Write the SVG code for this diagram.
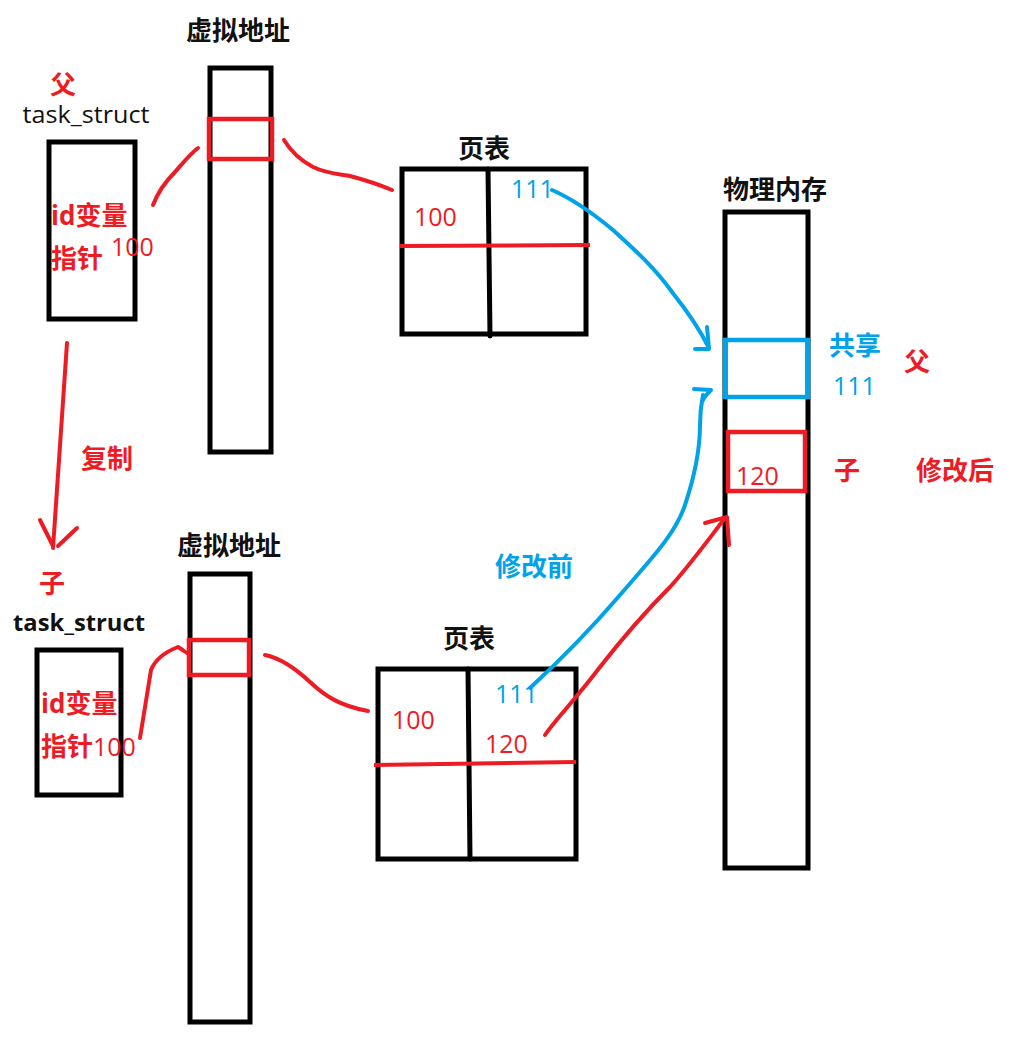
<svg xmlns="http://www.w3.org/2000/svg" width="1011" height="1049" viewBox="0 0 1011 1049">
<style>
.box{fill:none;stroke:#000;stroke-width:5}
.rbox{fill:none;stroke:#ED1C24;stroke-width:4.5}
.bbox{fill:none;stroke:#00A2E8;stroke-width:4.5}
.ln{fill:none;stroke:#000;stroke-width:5;stroke-linecap:round}
.rl{fill:none;stroke:#ED1C24;stroke-width:4;stroke-linecap:round;stroke-linejoin:round}
.bl{fill:none;stroke:#00A2E8;stroke-width:4;stroke-linecap:round;stroke-linejoin:round}
text{font-family:"Open Sans","Noto Sans CJK SC",sans-serif}
.h{font-size:26px;font-weight:bold;fill:#111;text-anchor:middle}
.rb{font-size:26px;font-weight:bold;fill:#ED1C24}
.bb{font-size:26px;font-weight:bold;fill:#00A2E8}
.rn{font-size:25px;fill:#ED1C24}
.bn{font-size:25px;fill:#00A2E8}
.ts{font-size:24px;fill:#111;text-anchor:middle}
</style>
<rect width="1011" height="1049" fill="#fff"/>

<g id="parent-task">
<text class="rb" x="50" y="94" font-size="27">父</text>
<text class="ts" x="86" y="123" textLength="127" lengthAdjust="spacingAndGlyphs">task_struct</text>
<rect class="box" x="49" y="142" width="86" height="177"/>
<text class="rb" x="51" y="225" font-size="24">id变量</text>
<text class="rb" x="51" y="268" font-size="24">指针</text>
<text class="rn" x="111" y="256">100</text>
</g>

<g id="parent-vaddr">
<text class="h" x="238" y="40">虚拟地址</text>
<rect class="box" x="210" y="68" width="61" height="384"/>
<rect class="rbox" x="209" y="119" width="63" height="40"/>
</g>

<g id="parent-pagetable">
<text class="h" x="484" y="158">页表</text>
<rect class="box" x="402" y="169" width="184" height="165"/>
<line class="ln" x1="488" y1="169" x2="490" y2="336"/>
<line x1="400" y1="246" x2="590" y2="245" stroke="#ED1C24" stroke-width="4"/>
<text class="rn" x="414" y="226">100</text>
<text class="bn" x="511" y="198">111</text>
</g>

<g id="physical-memory">
<text class="h" x="775" y="199">物理内存</text>
<rect class="box" x="725" y="212" width="83" height="656"/>
<rect class="bbox" x="725" y="340" width="83" height="57"/>
<rect class="rbox" x="728" y="432" width="77" height="59"/>
<text class="rn" x="736" y="485">120</text>
<text class="bb" x="829" y="355">共享</text>
<text class="bn" x="833" y="395">111</text>
<text class="rb" x="904" y="371" font-size="28">父</text>
<text class="rb" x="834" y="480">子</text>
<text class="rb" x="916" y="480">修改后</text>
</g>

<g id="label-before">
<text class="bb" x="495" y="576">修改前</text>
</g>

<g id="label-copy">
<text class="rb" x="81" y="468">复制</text>
</g>

<g id="child-task">
<text class="rb" x="39" y="593" font-size="28">子</text>
<text class="ts" x="79" y="631" font-weight="bold" textLength="132" lengthAdjust="spacingAndGlyphs">task_struct</text>
<rect class="box" x="37" y="650" width="84" height="145"/>
<text class="rb" x="41" y="713" font-size="24">id变量</text>
<text class="rb" x="41" y="756" font-size="24">指针</text>
<text class="rn" x="93" y="756">100</text>
</g>

<g id="child-vaddr">
<text class="h" x="229" y="555">虚拟地址</text>
<rect class="box" x="190" y="574" width="60" height="448"/>
<rect class="rbox" x="189" y="640" width="60" height="35"/>
</g>

<g id="child-pagetable">
<text class="h" x="469" y="648">页表</text>
<rect class="box" x="378" y="669" width="198" height="190"/>
<line class="ln" x1="468" y1="669" x2="470" y2="859"/>
<line x1="374" y1="765" x2="576" y2="762" stroke="#ED1C24" stroke-width="4"/>
<text class="rn" x="392" y="729">100</text>
<text class="bn" x="495" y="703">111</text>
<text class="rn" x="485" y="753">120</text>
</g>

<g id="connectors">
<path class="rl" d="M153,205 C158,192 165,182 175,172 C183,163 190,154 198,148"/>
<path class="rl" d="M284,140 C290,150 300,160 313,167 C325,173 338,174 350,176 C365,180 380,185 392,190"/>
<path class="bl" d="M552,190 C575,200 595,215 613,230 C635,250 655,268 672,292 C688,312 700,330 709,348"/>
<path class="bl" d="M707,327 L709,349 L695,349"/>
<path class="rl" d="M67,343 L53,548"/>
<path class="rl" d="M40,520 L53,546 M77,528 L58,546"/>
<path class="rl" d="M140,738 C143,720 146,700 151,670 C155,660 165,652 178,647 C183,650 185,652 187,653"/>
<path class="rl" d="M265,655 C280,658 295,668 310,682 C325,696 340,706 368,711"/>
<path class="bl" d="M530,688 C555,665 590,630 620,595 C650,560 675,535 685,505 C695,475 700,450 700,425 C700,410 702,400 703,395"/>
<path class="bl" d="M694,389 L711,390 C707,394 704,397 703,400"/>
<path class="rl" d="M545,735 C555,720 575,700 600,667 C625,635 650,607 670,587 C690,565 708,540 725,518"/>
<path class="rl" d="M705,523 L727,517 L729,545"/>
</g>
</svg>
